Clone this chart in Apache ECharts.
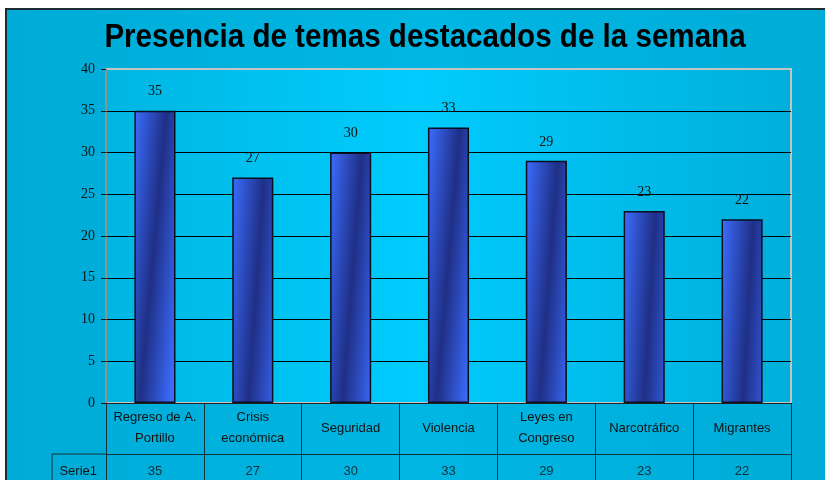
<!DOCTYPE html>
<html lang="es">
<head>
<meta charset="utf-8">
<title>Presencia de temas destacados de la semana</title>
<script src="https://cdn.jsdelivr.net/npm/echarts@6/dist/echarts.min.js"></script>
<style>
  html, body { margin: 0; padding: 0; background: #fff; }
  #chart { width: 825px; height: 480px; }
</style>
</head>
<body>
<div id="chart"></div>
<script>
// 数据
const categories = ['Regreso de A.\nPortillo', 'Crisis\neconómica', 'Seguridad', 'Violencia', 'Leyes en\nCongreso', 'Narcotráfico', 'Migrantes']
const serie1 = [35, 27, 30, 33, 29, 23, 22]
const seriesName = 'Serie1'
const yTicks = [0, 5, 10, 15, 20, 25, 30, 35, 40]
const titleText = 'Presencia de temas destacados de la semana'

const LINE = '#14303a'
const SANS = 'Liberation Sans, Arial, sans-serif'
const SERIF = 'Liberation Serif, Times New Roman, serif'

// 表格：y 轴 0~4.5，第一行 0~3（类目名），第二行数值在 4
const tableRowValue = 4
const tableDivider = 3

const chart = echarts.init(document.getElementById('chart'))

const option = {
  animation: false,
  backgroundColor: '#ffffff',
  graphic: [
    {
      type: 'rect',
      z: -10,
      shape: { x: 6, y: 9, width: 840, height: 490 },
      style: {
        fill: new echarts.graphic.LinearGradient(0, 0, 1, 0, [
          { offset: 0, color: '#00abd7' },
          { offset: 0.5, color: '#00b6e3' },
          { offset: 1, color: '#00abd7' },
        ]),
        stroke: '#1b2d30',
        lineWidth: 2,
      },
    },
    // 标题（横向压缩，接近原图的窄体字）
    {
      type: 'text',
      x: 425,
      y: 38,
      scaleX: 0.87,
      style: {
        text: titleText,
        font: 'bold 34px ' + SANS,
        fill: '#000',
        align: 'center',
        verticalAlign: 'middle',
      },
    },
    // Serie1 单元格边框
    {
      type: 'polyline',
      shape: { points: [[52, 481], [52, 454], [106, 454]] },
      style: { stroke: LINE, lineWidth: 1, fill: null },
    },
  ],
  grid: [
    {
      left: 106,
      right: 34,
      top: 69,
      bottom: 77,
      show: true,
      borderColor: '#c4c4c4',
      borderWidth: 2,
      backgroundColor: new echarts.graphic.LinearGradient(0, 0, 1, 0, [
        { offset: 0, color: '#00b6e2' },
        { offset: 0.45, color: '#00ccfd' },
        { offset: 1, color: '#00afdb' },
      ]),
    },
    {
      left: 106,
      right: 34,
      top: 403,
      bottom: 0,
    },
  ],
  xAxis: [
    {
      type: 'category',
      data: categories,
      axisLine: { lineStyle: { color: '#222', width: 1 } },
      axisTick: { show: false },
      axisLabel: {
        interval: 0,
        margin: 25,
        verticalAlign: 'middle',
        lineHeight: 21,
        fontFamily: SANS,
        fontSize: 13,
        color: '#111',
      },
    },
    {
      type: 'category',
      gridIndex: 1,
      data: categories,
      axisLine: { show: false },
      axisTick: { show: false },
      axisLabel: { show: false },
      splitLine: { show: true, interval: 0, lineStyle: { color: LINE, width: 1 } },
    },
  ],
  yAxis: [
    {
      type: 'value',
      min: yTicks[0],
      max: yTicks[yTicks.length - 1],
      interval: 5,
      axisLine: { show: true, lineStyle: { color: '#808080', width: 1.5 } },
      axisTick: { show: true, length: 5, lineStyle: { color: '#111' } },
      axisLabel: {
        margin: 11,
        fontFamily: SERIF,
        fontSize: 14,
        color: '#111',
      },
      splitLine: {
        show: true,
        lineStyle: {
          color: ['#000', '#000', '#000', '#000', '#000', '#000', '#000', '#000', '#c4c4c4'],
          width: 1,
        },
      },
    },
    {
      type: 'value',
      gridIndex: 1,
      min: 0,
      max: 4.5,
      interval: 1,
      inverse: true,
      axisLine: { show: true, lineStyle: { color: LINE, width: 1 } },
      axisTick: { show: false },
      splitLine: { show: false },
      axisLabel: {
        margin: 9,
        fontFamily: SANS,
        fontSize: 13,
        color: '#111',
        formatter: (v) => (v === tableRowValue ? seriesName : ''),
      },
    },
  ],
  series: [
    {
      name: seriesName,
      type: 'bar',
      data: serie1,
      barWidth: '42%',
      itemStyle: {
        color: new echarts.graphic.LinearGradient(0, 0, 1.55, 0.02, [
          { offset: 0, color: '#3c6eff' },
          { offset: 0.5, color: '#1f2f86' },
          { offset: 1, color: '#3c6eff' },
        ]),
        borderColor: '#0a0f20',
        borderWidth: 1.5,
      },
      label: {
        show: true,
        position: 'top',
        distance: 12,
        fontFamily: SERIF,
        fontSize: 14,
        color: '#111',
      },
    },
    {
      // 数据表第二行的数值
      name: seriesName + ' tabla',
      type: 'scatter',
      xAxisIndex: 1,
      yAxisIndex: 1,
      symbolSize: 0,
      silent: true,
      data: serie1.map((v, i) => [i, tableRowValue, v]),
      label: {
        show: true,
        position: 'inside',
        fontFamily: SANS,
        fontSize: 13,
        color: '#111',
        formatter: (p) => String(p.data[2]),
      },
      markLine: {
        silent: true,
        symbol: 'none',
        label: { show: false },
        lineStyle: { color: LINE, width: 1, type: 'solid' },
        data: [{ yAxis: tableDivider }],
      },
    },
  ],
}

chart.setOption(option)

window.addEventListener('resize', () => {
  chart.resize()
})
</script>
</body>
</html>
